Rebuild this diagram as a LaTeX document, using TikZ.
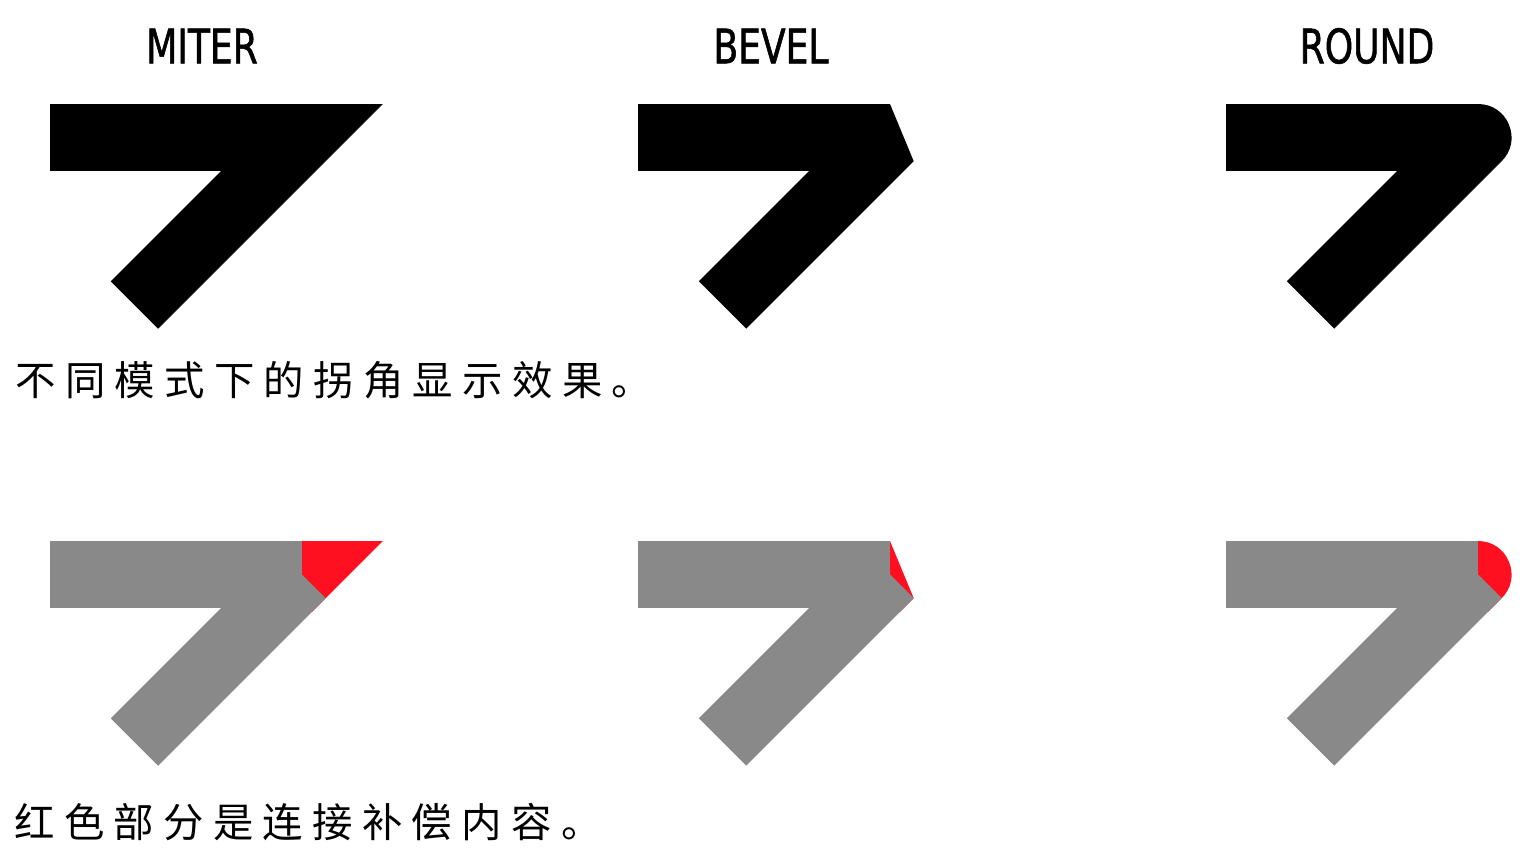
\documentclass[tikz,border=0pt]{standalone}
\usepackage{fontspec}
\usetikzlibrary{positioning,calc}
\newfontfamily\modefont{DejaVu Sans}[FakeStretch=0.76,FakeBold=1.2]
\newfontfamily\cjk{Noto Sans CJK SC}[LetterSpace=23]
\definecolor{JoinGray}{RGB}{137,137,137}
\definecolor{JoinRed}{RGB}{255,16,32}
\tikzset{
  modelabel/.style={font=\modefont\fontsize{27}{27}\selectfont,inner sep=0pt},
  caption/.style={font=\cjk\fontsize{23}{23}\selectfont,inner sep=0pt,anchor=west},
  bendline/.style={line width=1.34cm,line cap=butt},
  fullbend/.style={bendline,black},
  extrabit/.style={bendline,JoinRed},
  bodybit/.style={bendline,JoinGray}
}

\begin{document}
\begin{tikzpicture}[x=0.02cm,y=-0.02cm]
  \useasboundingbox (0,0) rectangle (1520,848);
  % labels over each column
  \node[modelabel] (miter) at (202,46) {MITER};
  \node[modelabel] (bevel) at (771,46) {BEVEL};
  \node[modelabel] (round) at (1367,46) {ROUND};

  % top row, whole strokes
  \coordinate (mA) at (50,137.5);
  \coordinate (mB) at (302,137.5);
  \coordinate (mC) at (134.5,305);
  \coordinate (bA) at (638,137.5);
  \coordinate (bB) at (890,137.5);
  \coordinate (bC) at (722.5,305);
  \coordinate (rA) at (1226,137.5);
  \coordinate (rB) at (1478,137.5);
  \coordinate (rC) at (1310.5,305);
  \draw[fullbend,line join=miter] (mA) -- (mB) -- (mC);
  \draw[fullbend,line join=bevel] (bA) -- (bB) -- (bC);
  \draw[fullbend,line join=round] (rA) -- (rB) -- (rC);

  \node[caption] (cap1) at (15,380) {不同模式下的拐角显示效果。};

  % bottom row, join part in red (short pieces, hidden under the gray)
  \coordinate (mA2) at (50,574.5);
  \coordinate (mB2) at (302,574.5);
  \coordinate (mC2) at (134.5,742);
  \coordinate (bA2) at (638,574.5);
  \coordinate (bB2) at (890,574.5);
  \coordinate (bC2) at (722.5,742);
  \coordinate (rA2) at (1226,574.5);
  \coordinate (rB2) at (1478,574.5);
  \coordinate (rC2) at (1310.5,742);
  \draw[extrabit,line join=miter] ($(mB2)+(-20,0)$) -- (mB2) -- ($(mB2)+(-14,14)$);
  \draw[extrabit,line join=bevel] ($(bB2)+(-20,0)$) -- (bB2) -- ($(bB2)+(-14,14)$);
  \draw[extrabit,line join=round] ($(rB2)+(-20,0)$) -- (rB2) -- ($(rB2)+(-14,14)$);
  \draw[bodybit] (mA2) -- (mB2);
  \draw[bodybit] (mB2) -- (mC2);
  \draw[bodybit] (bA2) -- (bB2);
  \draw[bodybit] (bB2) -- (bC2);
  \draw[bodybit] (rA2) -- (rB2);
  \draw[bodybit] (rB2) -- (rC2);

  \node[caption] (cap2) at (14,822) {红色部分是连接补偿内容。};
\end{tikzpicture}
\end{document}
